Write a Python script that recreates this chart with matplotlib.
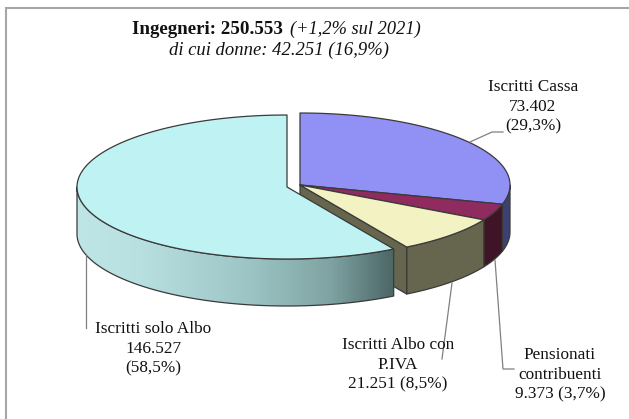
import numpy as np
import matplotlib
matplotlib.use("Agg")
import matplotlib.pyplot as plt
from matplotlib.colors import LinearSegmentedColormap
from matplotlib.patches import Polygon

# ---- data ----
categories = ["Iscritti Cassa", "Pensionati contribuenti", "Iscritti Albo con P.IVA", "Iscritti solo Albo"]
values = [73402, 9373, 21251, 146527]
label_texts = ["Iscritti Cassa\n73.402\n(29,3%)",
               "Pensionati\ncontribuenti\n9.373 (3,7%)",
               "Iscritti Albo con\nP.IVA\n21.251 (8,5%)",
               "Iscritti solo Albo\n146.527\n(58,5%)"]
top_colors = ["#9090F5", "#8F2B5E", "#F3F2C3", "#BFF3F3"]
side_colors = ["#3E4170", "#3F1426", "#66664F", None]
title_bold = "Ingegneri: 250.553"
title_italic = "(+1,2% sul 2021)"
subtitle = "di cui donne: 42.251 (16,9%)"

# ---- layout (pixels) ----
W, H = 629, 419
RX, RY, DEPTH = 210, 72, 47
C_MAIN = (300, 185)
C_EXPL = (287, 187)
FONT = ["Liberation Serif", "DejaVu Serif"]
FS = 12.4

fig = plt.figure(figsize=(W / 100, H / 100), dpi=100, facecolor="white")
ax = fig.add_axes([0, 0, 1, 1])
ax.set_xlim(0, W)
ax.set_ylim(H, 0)
ax.axis("off")

# frame (only top and left edges are visible)
ax.plot([6, 6, W], [H, 8, 8], color="#A6A6A6", lw=1.5, solid_joinstyle="miter", zorder=1)

# angles, clockwise from 12 o'clock
fractions = np.array(values, dtype=float) / sum(values)
edges = np.pi / 2 - 2 * np.pi * np.concatenate([[0], np.cumsum(fractions)])


def rim(center, a0, a1, dy=0, n=200):
    t = np.linspace(a0, a1, n)
    return np.column_stack([center[0] + RX * np.cos(t), center[1] - RY * np.sin(t) + dy])


EDGE = dict(edgecolor="#3A3A3A", linewidth=0.9, joinstyle="round")


def top_slice(center, a0, a1, color, z):
    pts = np.vstack([[center], rim(center, a0, a1)])
    ax.add_patch(Polygon(pts, closed=True, facecolor=color, zorder=z, **EDGE))


def outer_wall(center, a0, a1):
    upper = rim(center, a0, a1)
    lower = rim(center, a1, a0, dy=DEPTH)
    return np.vstack([upper, lower])


# right group: outer walls (only the front part of the rim is visible)
for i in range(3):
    a0 = min(edges[i], 0.0)
    ax.add_patch(Polygon(outer_wall(C_MAIN, a0, edges[i + 1]), closed=True,
                         facecolor=side_colors[i], zorder=3, **EDGE))

# inner cut wall of the P.IVA slice
p_end = rim(C_MAIN, edges[3], edges[3], n=1)[0]
wall = [C_MAIN, p_end, (p_end[0], p_end[1] + DEPTH), (C_MAIN[0], C_MAIN[1] + DEPTH)]
ax.add_patch(Polygon(wall, closed=True, facecolor=side_colors[2], zorder=3, **EDGE))

for i in range(3):
    top_slice(C_MAIN, edges[i], edges[i + 1], top_colors[i], 4)

# exploded slice: gradient wall
a_left = -np.pi
wall_pts = outer_wall(C_EXPL, a_left, edges[3])
cmap = LinearSegmentedColormap.from_list("wall", [(0, "#BEE6E6"), (0.2, "#B9E0E0"), (0.55, "#9CC4C4"),
                                                   (0.8, "#7FA3A3"), (1, "#4D6666")])
wall_poly = Polygon(wall_pts, closed=True, facecolor="none", zorder=6, **EDGE)
x0, x1 = wall_pts[:, 0].min(), wall_pts[:, 0].max()
y0, y1 = wall_pts[:, 1].min(), wall_pts[:, 1].max()
im = ax.imshow(np.linspace(0, 1, 256)[None, :], extent=(x0, x1, y1, y0), cmap=cmap, aspect="auto", zorder=5)
ax.add_patch(wall_poly)
im.set_clip_path(wall_poly)
ax.set_xlim(0, W)
ax.set_ylim(H, 0)

top_slice(C_EXPL, edges[3], edges[4], top_colors[3], 7)

# leader lines
leaders = [([470, 492, 503], [142, 132, 132]),
           ([495, 503, 514], [260, 369, 369]),
           ([452, 442], [283, 359]),
           ([85.7, 85.7], [254, 328])]
for lx, ly in leaders:
    ax.plot(lx, ly, color="#808080", lw=0.9, zorder=8)

# labels
label_xy = [(533, 107), (560, 375), (398, 365), (153.5, 349)]
for txt, (x, y) in zip(label_texts, label_xy):
    ax.text(x, y, txt, ha="center", va="center", family=FONT, fontsize=FS, color="#111111",
            linespacing=1.31, zorder=9)

# title
ax.text(132, 29, title_bold, ha="left", va="center", family=FONT, fontsize=13.7, weight="bold", color="#111111")
ax.text(290, 29, title_italic, ha="left", va="center", family=FONT, fontsize=13.2, style="italic", color="#111111")
ax.text(279, 50, subtitle, ha="center", va="center", family=FONT, fontsize=13.4, style="italic", color="#111111")

fig.savefig("out.png", dpi=100)
